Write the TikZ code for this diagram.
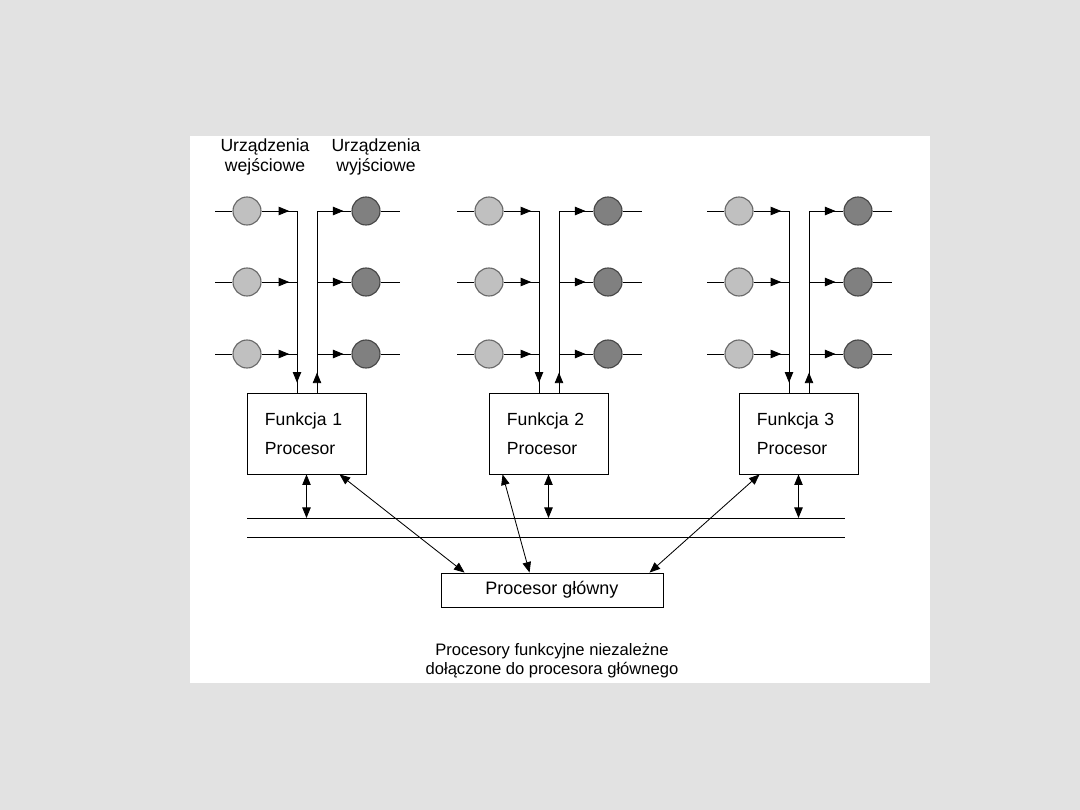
\documentclass[tikz,border=0pt]{standalone}
\usepackage{fontspec}
\setmainfont{Liberation Sans}
\usetikzlibrary{positioning,arrows.meta,decorations.markings,calc}
\definecolor{slidegray}{RGB}{226,226,226}
\definecolor{infill}{RGB}{192,192,192}
\definecolor{indraw}{RGB}{105,105,105}
\definecolor{outfill}{RGB}{128,128,128}
\definecolor{outdraw}{RGB}{70,70,70}
\tikzset{
  wire/.style={line width=0.6pt},
  fwd/.style={wire,postaction={decorate},decoration={markings,mark=at position #1 with {\arrow{Triangle[length=7.5pt,width=6pt]}}}},
  both/.style={wire,{Triangle[length=7.5pt,width=6pt]}-{Triangle[length=7.5pt,width=6pt]}},
  idev/.style={circle,draw=indraw,fill=infill,line width=0.8pt,minimum size=0.7cm,inner sep=0pt},
  odev/.style={circle,draw=outdraw,fill=outfill,line width=0.8pt,minimum size=0.7cm,inner sep=0pt},
  fproc/.style={draw,line width=0.6pt,minimum width=2.975cm,minimum height=2.025cm,text width=2.075cm,inner xsep=0.45cm,align=left,font=\fontsize{12.5}{21}\selectfont},
  mproc/.style={draw,line width=0.6pt,minimum width=5.55cm,minimum height=0.85cm,font=\fontsize{12.8}{15}\selectfont},
  lbl/.style={align=center,font=\fontsize{12.5}{14}\selectfont},
  note/.style={align=center,font=\fontsize{11.8}{13.5}\selectfont}
}
\begin{document}
\begin{tikzpicture}[x=0.025cm,y=-0.025cm]
  \fill[slidegray] (0,0) rectangle (1080,810);
  \fill[white] (190,136) rectangle (930,683);
  \node[lbl] (hin) at (265,157) {Urządzenia\\wejściowe};
  \node[lbl] (hout) at (376,157) {Urządzenia\\wyjściowe};
  % szyna
  \coordinate (busa1) at (247,518); \coordinate (busa2) at (845,518);
  \coordinate (busb1) at (247,537); \coordinate (busb2) at (845,537);
  \draw[wire] (busa1) -- (busa2); \draw[wire] (busb1) -- (busb2);
  \foreach \g/\ix in {1/247,2/489,3/739}{
    \node[fproc] (box\g) at (\ix+59.5,433.5) {Funkcja \g\\Procesor};
    \coordinate (dtop\g) at (\ix+50,211); \coordinate (utop\g) at (\ix+70,211);
    \draw[fwd=0.945] (dtop\g) -- (box\g.north -| dtop\g);
    \draw[fwd=0.11] (box\g.north -| utop\g) -- (utop\g);
    \draw[both] (box\g.south) -- (box\g.south |- busa1);
    \foreach \r/\y in {1/211,2/282,3/354}{
      \node[idev] (in\g\r) at (\ix,\y) {}; \node[odev] (out\g\r) at (\ix+119,\y) {};
      \coordinate (il\g\r) at (\ix-32,\y); \coordinate (or\g\r) at (\ix+153,\y);
      \draw[wire] (il\g\r) -- (in\g\r); \draw[fwd=0.78] (in\g\r) -- (in\g\r -| dtop\g);
      \draw[fwd=0.77] (out\g\r -| utop\g) -- (out\g\r); \draw[wire] (out\g\r) -- (or\g\r);
    }
  }
  \node[mproc] (main) at (552,590) {Procesor główny};
  \draw[both] ($(box1.south west)+(93,0)$) -- ($(main.north west)+(24,0)$);
  \draw[both] ($(box2.south west)+(14,0)$) -- ($(main.north west)+(89,0)$);
  \draw[both] ($(box3.south west)+(21,0)$) -- ($(main.north west)+(209,0)$);
  \node[note] (cap) at (552,661) {Procesory funkcyjne niezależne\\dołączone do procesora głównego};
\end{tikzpicture}
\end{document}
